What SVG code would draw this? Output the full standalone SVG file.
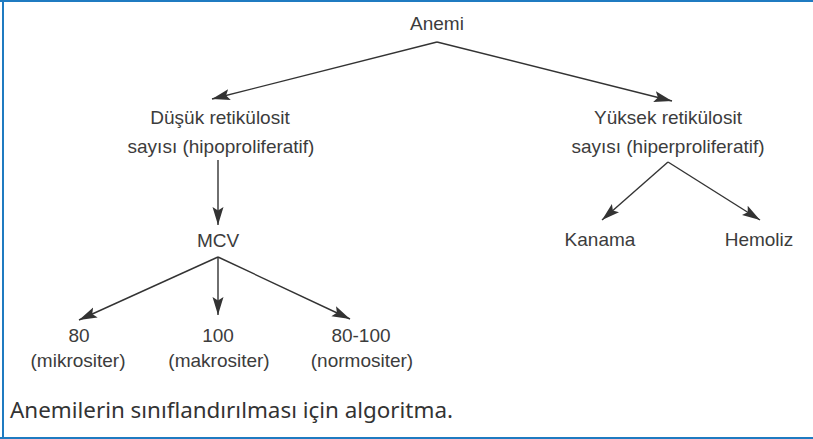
<svg xmlns="http://www.w3.org/2000/svg" width="813" height="439" viewBox="0 0 813 439">
  <defs>
    <marker id="head" markerUnits="userSpaceOnUse" markerWidth="19" markerHeight="12" viewBox="0 0 19 12" refX="18" refY="6" orient="auto">
      <path d="M0,0.5 L18,6 L0,11.5 L3.5,6 Z" fill="#333"/>
    </marker>
    <style>
      .lbl { font-family: "Liberation Sans", Arial, sans-serif; font-size: 19px; fill: #3c3c3c; text-anchor: middle; }
      .cap { font-family: "Noto Sans", "Open Sans", sans-serif; font-size: 22.4px; fill: #333; }
      .edge { stroke: #333; stroke-width: 1.4; fill: none; marker-end: url(#head); }
    </style>
  </defs>

  <!-- frame -->
  <rect x="0" y="0" width="813" height="439" fill="#fff"/>
  <line x1="0" y1="1" x2="813" y2="1" stroke="#1f7bc1" stroke-width="2"/>
  <line x1="3" y1="0" x2="3" y2="439" stroke="#1f7bc1" stroke-width="2"/>
  <line x1="0" y1="438" x2="813" y2="438" stroke="#1f7bc1" stroke-width="2"/>

  <g id="connectors">
    <path class="edge" d="M437,42 L212,99"/>
    <path class="edge" d="M437,42 L672,101"/>
    <path class="edge" d="M218,160 L218,225"/>
    <path class="edge" d="M218,257 L79,320"/>
    <path class="edge" d="M218,257 L218,315"/>
    <path class="edge" d="M218,257 L350,319"/>
    <path class="edge" d="M668,162 L602,220"/>
    <path class="edge" d="M668,162 L760,220"/>
  </g>

  <g id="anemi"><text class="lbl" x="437" y="30">Anemi</text></g>
  <g id="dusuk">
    <text class="lbl" x="220" y="124">Düşük retikülosit</text>
    <text class="lbl" x="221" y="153">sayısı (hipoproliferatif)</text>
  </g>
  <g id="yuksek">
    <text class="lbl" x="668" y="124">Yüksek retikülosit</text>
    <text class="lbl" x="668" y="153">sayısı (hiperproliferatif)</text>
  </g>
  <g id="mcv"><text class="lbl" x="218" y="247">MCV</text></g>
  <g id="kanama"><text class="lbl" x="600" y="246">Kanama</text></g>
  <g id="hemoliz"><text class="lbl" x="759" y="246">Hemoliz</text></g>
  <g id="mikro">
    <text class="lbl" x="79" y="342">80</text>
    <text class="lbl" x="78" y="367">(mikrositer)</text>
  </g>
  <g id="makro">
    <text class="lbl" x="218" y="342">100</text>
    <text class="lbl" x="219" y="367">(makrositer)</text>
  </g>
  <g id="normo">
    <text class="lbl" x="361" y="342">80-100</text>
    <text class="lbl" x="362" y="367">(normositer)</text>
  </g>

  <text class="cap" x="10" y="418">Anemilerin sınıflandırılması için algoritma.</text>
</svg>
